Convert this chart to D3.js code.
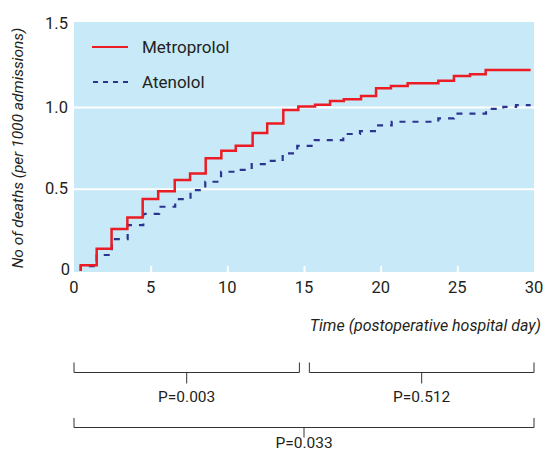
<!DOCTYPE html>
<html><head><meta charset="utf-8">
<script src="https://cdn.jsdelivr.net/npm/d3@7"></script>
<style>
body{margin:0;background:#fff;}
text{font-family:"Roboto","Liberation Sans",sans-serif;fill:#231f20;}
</style></head>
<body><svg id="c" width="545" height="453"></svg>
<script>
// ---- data ----
const metoprololDays   = [0.44, 0.44, 1.48, 2.45, 3.48, 4.48, 5.49, 6.57, 7.57, 8.59, 9.61, 10.55, 11.65, 12.6, 13.65, 14.63, 15.72, 16.7, 17.6, 18.72, 19.7, 20.67, 21.76, 23.76, 24.78, 25.83, 26.85, 29.78];
const metoprololValues = [0, 0.035, 0.136, 0.257, 0.327, 0.44, 0.488, 0.557, 0.596, 0.689, 0.736, 0.766, 0.844, 0.902, 0.985, 1.006, 1.017, 1.04, 1.05, 1.07, 1.117, 1.131, 1.148, 1.164, 1.193, 1.203, 1.229, 1.229];
const atenololDays     = [0.44, 0.44, 1.48, 2.47, 3.5, 4.52, 5.55, 6.6, 7.6, 8.56, 9.59, 10.57, 11.59, 12.63, 13.61, 14.56, 15.7, 17.56, 18.65, 19.7, 20.72, 23.76, 24.78, 26.87, 28.0, 28.83, 29.78];
const atenololValues   = [0, 0.03, 0.098, 0.195, 0.28, 0.349, 0.393, 0.44, 0.495, 0.546, 0.607, 0.618, 0.654, 0.673, 0.72, 0.765, 0.801, 0.838, 0.855, 0.891, 0.913, 0.934, 0.962, 0.991, 1.004, 1.015, 1.015];
const xTicks = [0, 5, 10, 15, 20, 25, 30];
const yTicks = [0, 0.5, 1.0, 1.5];
const yTickLabels = ["0", "0.5", "1.0", "1.5"];
const gridValues = [0.5, 1.0];
const seriesNames = ["Metroprolol", "Atenolol"];
const bracketStart = [0, 15.35, 0];
const bracketEnd   = [14.7, 30, 30];
const bracketLabels = ["P=0.003", "P=0.512", "P=0.033"];

// ---- layout ----
const svg = d3.select("#c");
const x = d3.scaleLinear().domain([0, 30]).range([74, 534]);
const y = d3.scaleLinear().domain([0, 1.5]).range([271, 25.75]);

// background
svg.append("rect").attr("x", x(0)).attr("y", 22).attr("width", x(30) - x(0)).attr("height", y(0) + 1 - 22).attr("fill", "#c7e9f8");

// grid lines
svg.selectAll("line.grid").data(gridValues).join("line")
  .attr("x1", x(0)).attr("x2", x(30)).attr("y1", d => y(d)).attr("y2", d => y(d))
  .attr("stroke", "#fff").attr("stroke-width", 2);

// x-axis (white inner ticks) using d3 axis
const xAxis = d3.axisBottom(x).tickValues(xTicks.slice(1, -1)).tickSize(-6).tickFormat("");
const gx = svg.append("g").attr("transform", `translate(0,${y(0) + 1})`).call(xAxis);
gx.select(".domain").remove();
gx.selectAll(".tick line").attr("stroke", "#fff").attr("stroke-width", 2);

// x tick labels
svg.selectAll("text.xt").data(xTicks).join("text")
  .attr("x", d => x(d)).attr("y", 293).attr("text-anchor", "middle")
  .attr("font-size", 16.5).text(d => d);

// y tick labels
svg.selectAll("text.yt").data(yTicks).join("text")
  .attr("x", (d, i) => i === 0 ? 70 : 68).attr("y", (d, i) => i === 0 ? y(d) + 4 : (i === 3 ? y(d) + 3 : y(d) + 5))
  .attr("text-anchor", "end").attr("font-size", 16.5).text((d, i) => yTickLabels[i]);

// axis titles
svg.append("text").attr("x", 541).attr("y", 331).attr("text-anchor", "end")
  .attr("font-size", 16).attr("font-style", "italic").text("Time (postoperative hospital day)");
svg.append("text").attr("transform", "translate(23,148) rotate(-90)").attr("text-anchor", "middle")
  .attr("font-size", 15.5).attr("font-style", "italic").text("No of deaths (per 1000 admissions)");

// lines
const line = d3.line().curve(d3.curveStepAfter).x(d => x(d[0])).y(d => y(d[1]));
const metData = metoprololDays.map((d, i) => [d, metoprololValues[i]]);
const atnData = atenololDays.map((d, i) => [d, atenololValues[i]]);
svg.append("path").attr("d", line(atnData)).attr("fill", "none")
  .attr("stroke", "#2b3590").attr("stroke-width", 2.2).attr("stroke-dasharray", "6,7");
svg.append("path").attr("d", line(metData)).attr("fill", "none")
  .attr("stroke", "#ec1c24").attr("stroke-width", 2.5);

// legend
const lg = svg.append("g");
lg.append("line").attr("x1", 92).attr("x2", 128).attr("y1", 47).attr("y2", 47)
  .attr("stroke", "#ec1c24").attr("stroke-width", 2);
lg.append("line").attr("x1", 93).attr("x2", 129).attr("y1", 82).attr("y2", 82)
  .attr("stroke", "#2b3590").attr("stroke-width", 2).attr("stroke-dasharray", "5,5");
lg.append("text").attr("x", 142).attr("y", 53).attr("font-size", 17).text(seriesNames[0]);
lg.append("text").attr("x", 142).attr("y", 88).attr("font-size", 17).text(seriesNames[1]);

// brackets
const rows = [{top: 362.5, bar: 372.5, tickEnd: 383.5, ty: 402}, {top: 362.5, bar: 372.5, tickEnd: 383.5, ty: 402}, {top: 418, bar: 427.5, tickEnd: 437.5, ty: 448}];
bracketLabels.forEach((lab, i) => {
  const r = rows[i];
  const x0 = x(bracketStart[i]), x1 = x(bracketEnd[i]), xm = (x0 + x1) / 2;
  svg.append("path").attr("d", `M${x0},${r.top}V${r.bar}H${x1}V${r.top}M${xm},${r.bar}V${r.tickEnd}`)
    .attr("fill", "none").attr("stroke", "#333").attr("stroke-width", 1);
  svg.append("text").attr("x", xm).attr("y", r.ty).attr("text-anchor", "middle").attr("font-size", 15.5).text(lab);
});
</script></body></html>
